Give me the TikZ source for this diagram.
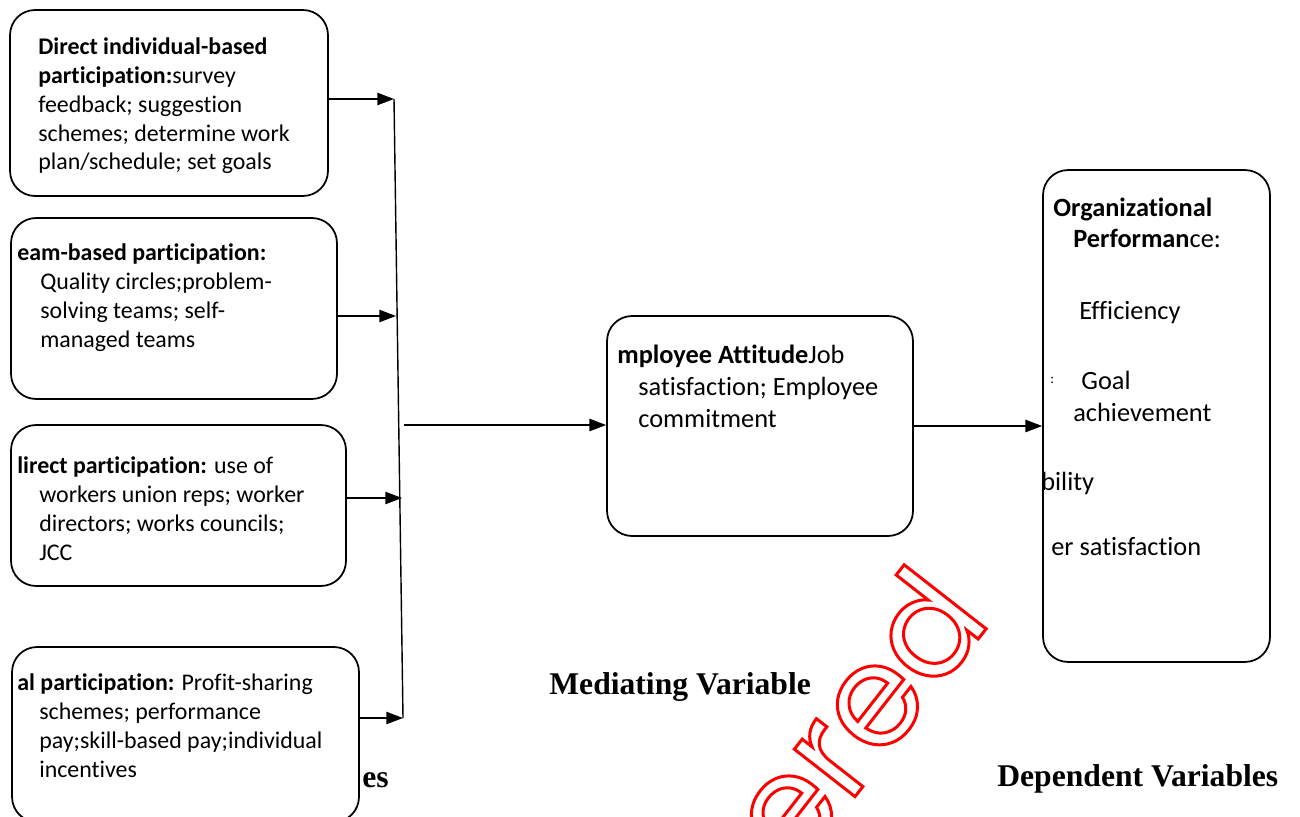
\documentclass[tikz,border=0pt]{standalone}
\usepackage{fontspec}
\setmainfont{Carlito}[Ligatures=NoCommon]
\newfontfamily\labelfont{Liberation Serif}
\newfontfamily\wmfont{Poppins}
\usetikzlibrary{arrows.meta}

\tikzset{
  box/.style={draw, line width=1pt, rounded corners=0.5cm, fill=white},
  txt/.style={anchor=base west, inner sep=0, align=left, font=\fontsize{13.6}{16.44}\selectfont},
  bigtxt/.style={anchor=base west, inner sep=0, align=left, font=\fontsize{15}{18.14}\selectfont},
  lbl/.style={anchor=base west, inner sep=0, font=\labelfont\bfseries\fontsize{18}{21}\selectfont},
  arr/.style={thick, -{Triangle[length=9.5pt,width=7pt]}},
}

\begin{document}
\begin{tikzpicture}[x=0.02cm, y=-0.02cm]
\useasboundingbox (0,0) rectangle (1300,817);

\node[lbl] (indlbl) at (362,787) {es};

% independent variables (text nodes sit on their last baseline)
\node[box, minimum width=6.36cm, minimum height=3.72cm] (dir) at (169,103) {};
\node[box, minimum width=6.52cm, minimum height=3.62cm] (team) at (174,308.5) {};
\node[box, minimum width=6.70cm, minimum height=3.22cm] (indir) at (178.5,505.5) {};
\node[box, minimum width=6.94cm, minimum height=3.50cm] (fin) at (185.5,734.5) {};

\node[txt] (dirtxt) at (38,170) {\textbf{Direct individual-based}\\
  \textbf{participation:}survey\\ feedback; suggestion\\ schemes; determine work\\ plan/schedule; set goals};
\node[txt] (teamtxt) at (17,347) {\textbf{eam-based participation:}\\
  \hspace*{0.46cm}Quality circles;problem-\\ \hspace*{0.46cm}solving teams; self-\\ \hspace*{0.46cm}managed teams};
\node[txt] (indirtxt) at (17,560) {\textbf{lirect participation:} use of\\
  \hspace*{0.44cm}workers union reps; worker\\ \hspace*{0.44cm}directors; works councils;\\ \hspace*{0.44cm}JCC};
\node[txt] (fintxt) at (17,777) {\textbf{al participation:} Profit-sharing\\
  \hspace*{0.44cm}schemes; performance\\ \hspace*{0.44cm}pay;skill-based pay;individual\\ \hspace*{0.44cm}incentives};

% mediating variable
\node[box, minimum width=6.12cm, minimum height=4.40cm] (att) at (760,426) {};
\node[bigtxt] (atttxt) at (617,427) {\textbf{mployee Attitude}Job\\
  \hspace*{0.42cm}satisfaction; Employee\\ \hspace*{0.42cm}commitment};
\node[lbl] (medlbl) at (549,694) {Mediating Variable};

% dependent variables
\node[box, minimum width=4.54cm, minimum height=9.84cm] (perf) at (1156.5,416) {};
\node[bigtxt] (p1) at (1053,217) {\textbf{Organizational}};
\node[bigtxt] (p2) at (1073,248) {\textbf{Performan}ce:};
\node[bigtxt] (p3) at (1079,319) {Efficiency};
\node[bigtxt, font=\fontsize{8}{9}\selectfont] (p4) at (1050,383) {:};
\node[bigtxt] (p5) at (1081,389) {Goal};
\node[bigtxt] (p6) at (1073,421) {achievement};
\node[bigtxt] (p7) at (1041,490) {bility};
\node[bigtxt] (p8) at (1051,555) {er satisfaction};
\node[lbl] (deplbl) at (997,786) {Dependent Variables};

% connectors
\coordinate (b1) at (394,99);
\coordinate (b2) at (396,316);
\coordinate (b3) at (402,498);
\coordinate (b4) at (403,718);
\coordinate (bm) at (404,425);
\draw[thick] (b1) -- (b4);
\draw[arr] (dir.east |- b1) -- (b1);
\draw[arr] (team.east |- b2) -- (b2);
\draw[arr] (indir.east |- b3) -- (b3);
\draw[arr] (fin.east |- b4) -- (b4);
\draw[arr] (bm) -- (att.west |- bm);
\draw[arr] (att.east) -- (att.east -| perf.west);

\node[rotate=52, anchor=base east, inner sep=0, text=red,
  font=\wmfont\fontsize{80}{80}\selectfont] (wm) at (993,620)
  {\special{pdf:literal direct 1 Tr 1.7 w}tered\special{pdf:literal direct 0 Tr}};
\end{tikzpicture}
\end{document}
